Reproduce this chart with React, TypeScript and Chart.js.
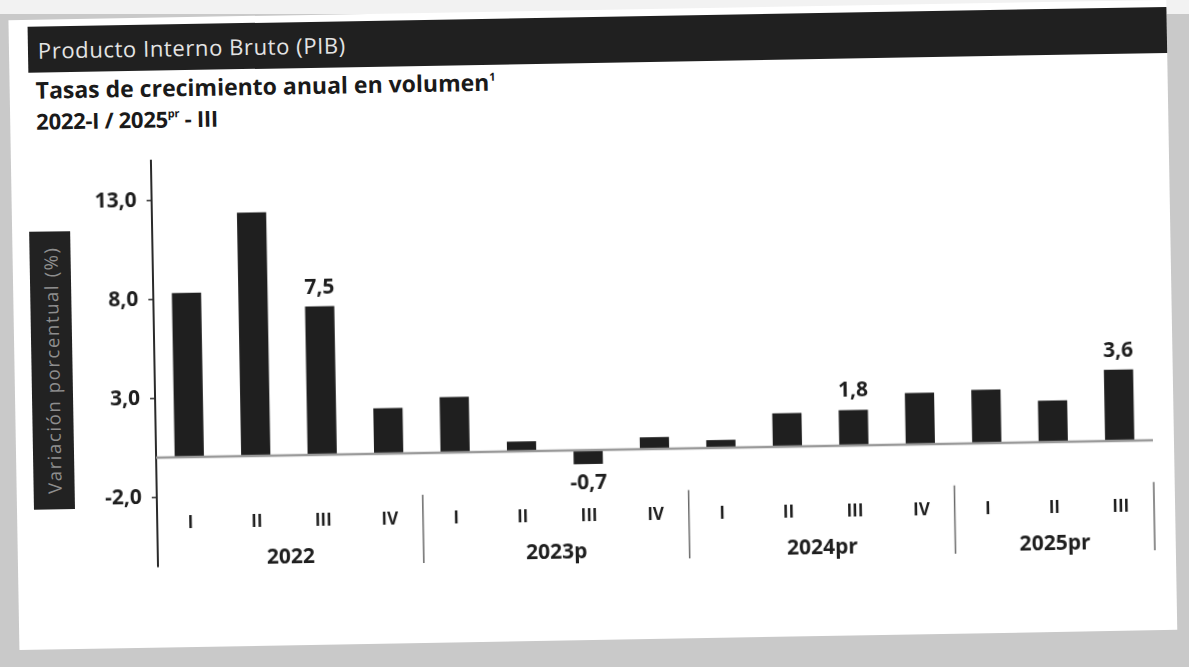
import { useEffect, useRef } from "react";
import { Chart, registerables } from "chart.js";

Chart.register(...registerables);

const categories = ["I", "II", "III", "IV", "I", "II", "III", "IV", "I", "II", "III", "IV", "I", "II", "III"];
const years = ["2022", "2023p", "2024pr", "2025pr"];
const yearSizes = [4, 4, 4, 3];
const values = [8.3, 12.3, 7.5, 2.3, 2.8, 0.5, -0.7, 0.6, 0.4, 1.7, 1.8, 2.6, 2.7, 2.1, 3.6];
const labeledIdx = [2, 6, 10, 14];
const yTicks = [-2, 3, 8, 13];
const yMin = -5.5;
const yMax = 15;

const fmt = (v: number) => v.toFixed(1).replace(".", ",");
const FONT = "'Open Sans', 'DejaVu Sans', sans-serif";

const decor = {
  id: "decor",
  afterDatasetsDraw(chart: any) {
    const { ctx, chartArea, scales } = chart;
    const x = scales.x;
    const y = scales.y;
    ctx.save();
    // zero line
    const y0 = y.getPixelForValue(0);
    ctx.strokeStyle = "#9a9a9a";
    ctx.lineWidth = 2.5;
    ctx.beginPath();
    ctx.moveTo(chartArea.left, y0);
    ctx.lineTo(chartArea.right, y0);
    ctx.stroke();

    ctx.fillStyle = "#1e1e1e";
    ctx.textAlign = "center";
    ctx.textBaseline = "middle";
    // data labels
    ctx.font = `700 21px ${FONT}`;
    const meta = chart.getDatasetMeta(0);
    labeledIdx.forEach((i) => {
      const el = meta.data[i];
      const v = values[i];
      const ty = v >= 0 ? el.y - 19 : el.y + 19;
      ctx.fillText(fmt(v), el.x, ty);
    });

    // quarter labels
    const yRef = y.getPixelForValue(-2);
    ctx.font = `700 17px ${FONT}`;
    categories.forEach((c, i) => {
      ctx.fillText(c, x.getPixelForValue(i), yRef + 26);
    });

    // years and separators
    const half = (x.getPixelForValue(1) - x.getPixelForValue(0)) / 2;
    let start = 0;
    years.forEach((yr, g) => {
      const end = start + yearSizes[g] - 1;
      const cx = (x.getPixelForValue(start) + x.getPixelForValue(end)) / 2;
      ctx.font = `700 21px ${FONT}`;
      ctx.fillStyle = "#1e1e1e";
      ctx.fillText(yr, cx, yRef + 62);
      const sx = x.getPixelForValue(end) + half;
      ctx.strokeStyle = "#6a6a6a";
      ctx.lineWidth = 1.5;
      ctx.beginPath();
      ctx.moveTo(sx, yRef + 2);
      ctx.lineTo(sx, chartArea.bottom + 1);
      ctx.stroke();
      start = end + 1;
    });
    ctx.restore();
  },
};

function App() {
  const ref = useRef<HTMLCanvasElement | null>(null);

  useEffect(() => {
    if (!ref.current) return;
    Chart.defaults.font.family = FONT;
    const chart = new Chart(ref.current, {
      type: "bar",
      data: {
        labels: categories,
        datasets: [
          {
            data: values,
            backgroundColor: "#1f1f1f",
            borderWidth: 0,
            barPercentage: 0.44,
            categoryPercentage: 1,
          },
        ],
      },
      options: {
        animation: false,
        responsive: false,
        devicePixelRatio: 1,
        layout: { padding: { top: 153, bottom: 108, left: 0, right: 38 } },
        plugins: { legend: { display: false }, tooltip: { enabled: false } },
        scales: {
          x: { display: false },
          y: {
            min: yMin,
            max: yMax,
            afterBuildTicks: (s: any) => {
              s.ticks = yTicks.map((v) => ({ value: v }));
            },
            afterFit: (s: any) => {
              s.width = 154;
            },
            grid: { drawOnChartArea: false, drawTicks: true, tickLength: 5, color: "#333", lineWidth: 1.5 },
            border: { display: true, color: "#2a2a2a", width: 2 },
            ticks: {
              padding: 10,
              color: "#1e1e1e",
              font: { family: FONT, size: 21, weight: "bold" },
              callback: (v: any) => fmt(Number(v)),
            },
          },
        },
      },
      plugins: [decor],
    });
    return () => chart.destroy();
  }, []);

  return (
    <div
      style={{
        position: "fixed",
        left: 0,
        top: 0,
        width: 1189,
        height: 667,
        background: "#c9c9c9",
        overflow: "hidden",
        fontFamily: FONT,
      }}
    >
      <div style={{ position: "absolute", left: 0, top: 0, width: 1189, height: 14, background: "#f2f2f2" }} />
      <div
        style={{
          position: "absolute",
          left: 0,
          top: 0,
          width: 1189,
          height: 667,
          transform: "rotate(-1deg)",
          transformOrigin: "594.5px 333.5px",
        }}
      >
        <div style={{ position: "absolute", left: 14, top: 10, width: 1158, height: 630, background: "#ffffff" }} />
        <div
          style={{
            position: "absolute",
            left: 33,
            top: 17,
            width: 1139,
            height: 46,
            background: "#202020",
            color: "#e4e4e4",
            fontSize: 22,
            letterSpacing: 0.6,
            display: "flex",
            alignItems: "center",
            paddingLeft: 10,
            boxSizing: "border-box",
          }}
        >
          Producto Interno Bruto (PIB)
        </div>
        <div
          style={{
            position: "absolute",
            left: 40,
            top: 66,
            fontSize: 23,
            fontWeight: 700,
            lineHeight: "28px",
            color: "#1a1a1a",
            letterSpacing: 0,
            whiteSpace: "nowrap",
          }}
        >
          Tasas de crecimiento anual en volumen<sup style={{ fontSize: 11, verticalAlign: "top", lineHeight: "18px" }}>1</sup>
        </div>
        <div
          style={{
            position: "absolute",
            left: 40,
            top: 97,
            fontSize: 22,
            fontWeight: 700,
            lineHeight: "28px",
            color: "#1a1a1a",
            letterSpacing: -0.3,
            whiteSpace: "nowrap",
          }}
        >
          2022-I / 2025<sup style={{ fontSize: 11, verticalAlign: "top", lineHeight: "18px" }}>pr</sup> - III
        </div>
        <div
          style={{
            position: "absolute",
            left: 31,
            top: 222,
            width: 41,
            height: 278,
            background: "#222222",
            display: "flex",
            alignItems: "center",
            justifyContent: "center",
          }}
        >
          <span
            style={{
              writingMode: "vertical-rl",
              transform: "rotate(180deg)",
              color: "#8e8e8e",
              fontSize: 18.5,
              letterSpacing: 1.6,
              whiteSpace: "nowrap",
            }}
          >
            Variación porcentual (%)
          </span>
        </div>
        <canvas ref={ref} width={1189} height={667} style={{ position: "absolute", left: 0, top: 0 }} />
      </div>
    </div>
  );
}

export default App;
